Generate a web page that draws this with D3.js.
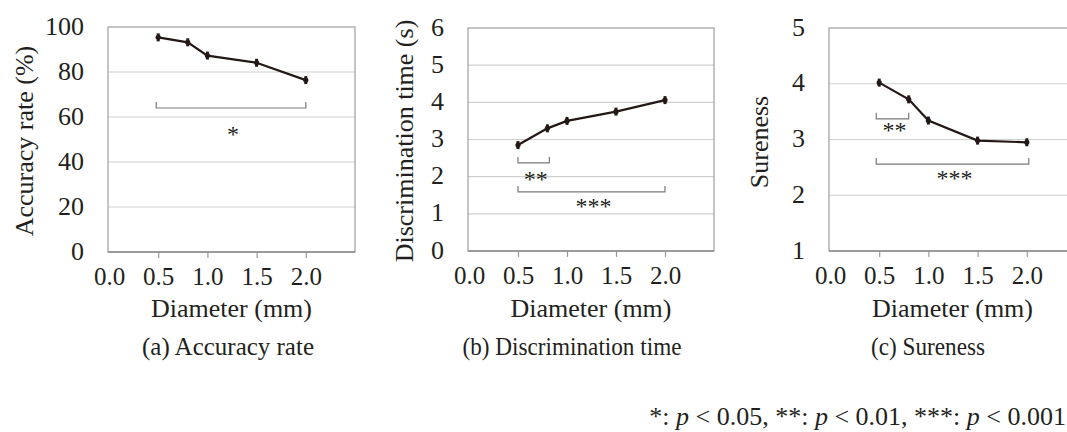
<!DOCTYPE html>
<html>
<head>
<meta charset="utf-8">
<script src="https://cdn.jsdelivr.net/npm/d3@7"></script>
<style>
  html, body { margin: 0; padding: 0; background: #fff; }
  svg { display: block; }
  text { font-family: "Liberation Serif", "Times New Roman", serif; fill: #231f20; }
</style>
</head>
<body>
<svg id="chart" width="1067" height="432"></svg>
<script>
// ---- data ----
const diameters = [0.5, 0.8, 1.0, 1.5, 2.0];
const accuracyRate = [95.4, 93.2, 87.3, 84.1, 76.4];
const discriminationTime = [2.85, 3.30, 3.50, 3.75, 4.06];
const sureness = [4.02, 3.72, 3.34, 2.98, 2.95];

const xTickValues = [0.0, 0.5, 1.0, 1.5, 2.0];
const accuracyTicks = [0, 20, 40, 60, 80, 100];
const timeTicks = [0, 1, 2, 3, 4, 5, 6];
const surenessTicks = [1, 2, 3, 4, 5];

const yLabels = ["Accuracy rate (%)", "Discrimination time (s)", "Sureness"];
const captions = ["(a) Accuracy rate", "(b) Discrimination time", "(c) Sureness"];
const xLabel = "Diameter (mm)";

// significance brackets: [fromX, toX, bracketY, labelY, label] (data units)
const accuracyBrackets = [[0.48, 2.0, 64, 48.9, "*"]];
const timeBrackets = [[0.5, 0.82, 2.37, 1.72, "**"], [0.5, 2.0, 1.59, 1.0, "***"]];
const surenessBrackets = [[0.47, 0.8, 3.37, 3.03, "**"], [0.47, 2.02, 2.56, 2.17, "***"]];

const footnote = [["*: ", false], ["p", true], [" < 0.05, **: ", false], ["p", true], [" < 0.01, ***: ", false], ["p", true], [" < 0.001", false]];

// ---- layout ----
const panels = [
  { values: accuracyRate, ticks: accuracyTicks, yDomain: [0, 100], brackets: accuracyBrackets,
    left: 108, xr: [109, 355], top: 27, bottom: 252, yLab: yLabels[0], ylx: 33, yly: 141, cap: captions[0], capX: 228, capW: 172 },
  { values: discriminationTime, ticks: timeTicks, yDomain: [0, 6], brackets: timeBrackets,
    left: 468, xr: [469, 714], top: 28, bottom: 251, yLab: yLabels[1], ylx: 413, yly: 141, cap: captions[1], capX: 572, capW: 219 },
  { values: sureness, ticks: surenessTicks, yDomain: [1, 5], brackets: surenessBrackets,
    left: 829, xr: [830, 1076], top: 28, bottom: 251, yLab: yLabels[2], ylx: 768, yly: 142, cap: captions[2], capX: 928, capW: 114 }
];

const svg = d3.select("#chart");

panels.forEach(p => {
  const g = svg.append("g");
  const x = d3.scaleLinear().domain([0, 2.5]).range(p.xr);
  const y = d3.scaleLinear().domain(p.yDomain).range([p.bottom, p.top]);
  const right = x(2.5);

  // gridlines
  g.append("g").selectAll("line").data(p.ticks.slice(1, -1)).join("line")
    .attr("x1", p.left).attr("x2", right)
    .attr("y1", d => y(d)).attr("y2", d => y(d))
    .attr("stroke", "#cfcfcf").attr("stroke-width", 1.2);

  // frame
  g.append("rect").attr("x", p.left).attr("y", p.top)
    .attr("width", right - p.left).attr("height", p.bottom - p.top)
    .attr("fill", "none").attr("stroke", "#a6a6a6").attr("stroke-width", 1.3);

  // y axis labels
  const yAxis = d3.axisLeft(y).tickValues(p.ticks).tickSize(0).tickPadding(0).tickFormat(d3.format("d"));
  const ya = g.append("g").attr("transform", `translate(${p.left - 24},0)`).call(yAxis);
  ya.attr("font-family", null);
  ya.select(".domain").remove();
  ya.selectAll("text").attr("font-size", 26).attr("dy", null)
    .attr("y", 7).attr("fill", "#231f20");

  // x axis
  const xAxis = d3.axisBottom(x).tickValues(xTickValues).tickSize(6).tickPadding(8).tickFormat(d3.format(".1f"));
  const xa = g.append("g").attr("transform", `translate(0,${p.bottom})`).call(xAxis);
  xa.attr("font-family", null);
  xa.select(".domain").remove();
  xa.selectAll(".tick line").attr("stroke", "#9a9a9a").attr("stroke-width", 1.2)
    .attr("display", d => d === 0 ? "none" : null);
  xa.selectAll("text").attr("font-size", 25).attr("dy", null).attr("y", 33)
    .attr("fill", "#231f20");

  // bottom axis line
  g.append("line").attr("x1", p.left).attr("x2", right)
    .attr("y1", p.bottom).attr("y2", p.bottom)
    .attr("stroke", "#8c8c8c").attr("stroke-width", 1.4);

  // data line
  const pts = diameters.map((d, i) => [d, p.values[i]]);
  g.append("path").datum(pts)
    .attr("d", d3.line().x(d => x(d[0])).y(d => y(d[1])))
    .attr("fill", "none").attr("stroke", "#231815").attr("stroke-width", 2.2);
  g.append("g").selectAll("rect").data(pts).join("rect")
    .attr("x", d => x(d[0]) - 1.5).attr("y", d => y(d[1]) - 4)
    .attr("width", 3).attr("height", 8).attr("fill", "#231815");
  g.append("g").selectAll("circle").data(pts).join("circle")
    .attr("cx", d => x(d[0])).attr("cy", d => y(d[1])).attr("r", 2.6)
    .attr("fill", "#231815");

  // significance brackets
  p.brackets.forEach(b => {
    const x1 = x(b[0]), x2 = x(b[1]), yy = y(b[2]);
    g.append("path")
      .attr("d", `M${x1},${yy - 6}V${yy}H${x2}V${yy - 6}`)
      .attr("fill", "none").attr("stroke", "#7a7a7a").attr("stroke-width", 1.2);
    g.append("text").attr("x", (x1 + x2) / 2 + 2).attr("y", y(b[3]))
      .attr("text-anchor", "middle").attr("font-size", 24).attr("fill", "#555")
      .text(b[4]);
  });

  // y label
  g.append("text").attr("transform", `translate(${p.ylx},${p.yly}) rotate(-90)`)
    .attr("text-anchor", "middle").attr("font-size", 26).text(p.yLab);

  // x label
  g.append("text").attr("x", (p.left + right) / 2).attr("y", 317)
    .attr("text-anchor", "middle").attr("font-size", 26).text(xLabel);

  // caption
  g.append("text").attr("x", p.capX).attr("y", 355)
    .attr("text-anchor", "middle").attr("font-size", 26)
    .attr("textLength", p.capW).attr("lengthAdjust", "spacingAndGlyphs")
    .text(p.cap);
});

// footnote
const fn = svg.append("text").attr("x", 1066).attr("y", 425)
  .attr("text-anchor", "end").attr("font-size", 26);
footnote.forEach(f => {
  fn.append("tspan").attr("font-style", f[1] ? "italic" : "normal").text(f[0]);
});
</script>
</body>
</html>
